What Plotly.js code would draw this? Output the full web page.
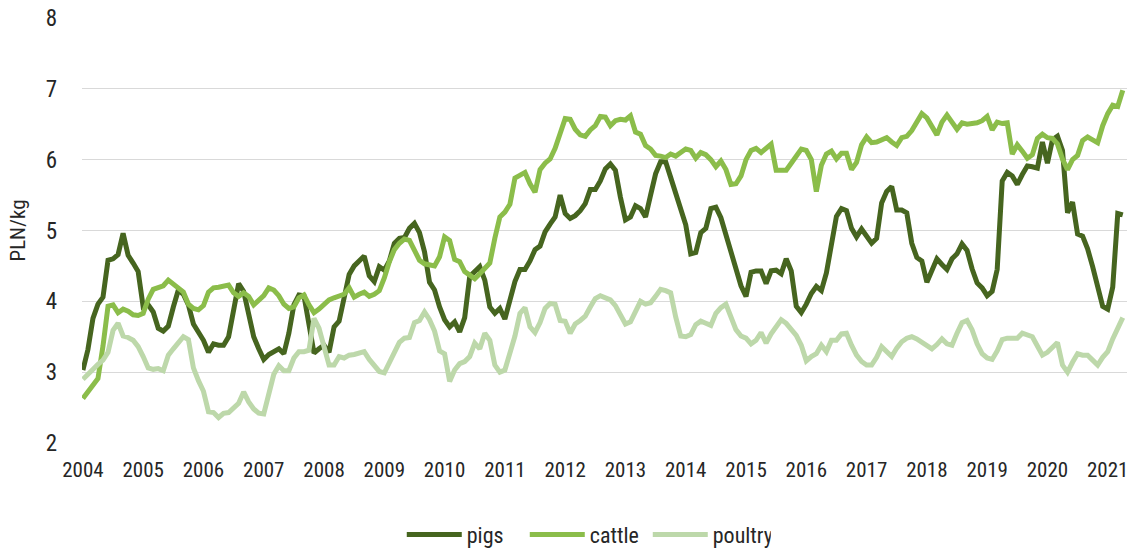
<!DOCTYPE html>
<html>
<head>
<meta charset="utf-8">
<script src="https://cdn.plot.ly/plotly-3.0.1.min.js"></script>
<style>
html,body{margin:0;padding:0;background:#fff;}
#chart{width:1129px;height:548px;}
</style>
</head>
<body>
<div id="chart"></div>
<script>
// Monthly series, January 2004 onwards (PLN/kg)
const startYear = 2004;
const seriesNames = ["pigs", "cattle", "poultry"];
const yearTicks = [2004,2005,2006,2007,2008,2009,2010,2011,2012,2013,2014,2015,2016,2017,2018,2019,2020,2021];
const yTicks = [2,3,4,5,6,7,8];

const pigs = [3.03,3.32,3.76,3.96,4.06,4.58,4.60,4.66,4.96,4.65,
4.54,4.42,3.92,3.95,3.85,3.62,3.58,3.65,3.92,4.16,
4.10,3.95,3.68,3.58,3.45,3.28,3.40,3.38,3.38,3.50,
3.85,4.25,4.14,3.85,3.50,3.33,3.18,3.25,3.29,3.33,
3.26,3.55,3.95,4.09,4.08,3.70,3.27,3.33,3.38,3.28,
3.64,3.72,4.05,4.38,4.50,4.56,4.64,4.36,4.28,4.49,
4.44,4.57,4.82,4.89,4.90,5.03,5.10,4.97,4.70,4.27,
4.16,3.92,3.74,3.64,3.71,3.57,3.77,4.35,4.42,4.49,
4.30,3.92,3.83,3.90,3.75,4.00,4.28,4.45,4.45,4.57,
4.73,4.78,4.98,5.09,5.19,5.50,5.24,5.17,5.21,5.28,
5.38,5.58,5.58,5.70,5.87,5.94,5.85,5.47,5.15,5.19,
5.35,5.31,5.19,5.50,5.80,5.97,5.97,5.75,5.51,5.31,
5.08,4.67,4.69,4.97,5.03,5.31,5.33,5.18,4.93,4.66,
4.45,4.22,4.07,4.41,4.43,4.43,4.25,4.43,4.44,4.39,
4.60,4.43,3.93,3.84,3.96,4.11,4.21,4.15,4.40,4.83,
5.20,5.31,5.28,5.03,4.91,5.02,4.91,4.82,4.89,5.39,
5.55,5.62,5.29,5.29,5.25,4.82,4.62,4.57,4.27,4.45,
4.60,4.52,4.45,4.60,4.67,4.81,4.72,4.46,4.26,4.19,
4.08,4.14,4.45,5.70,5.82,5.77,5.65,5.79,5.91,5.90,
5.88,6.25,5.95,6.28,6.33,6.13,5.25,5.40,4.95,4.92,
4.74,4.49,4.22,3.93,3.89,4.20,5.24,5.22];

const cattle = [2.63,2.73,2.83,2.91,3.37,3.93,3.95,3.84,3.89,3.86,
3.81,3.80,3.83,4.03,4.17,4.20,4.22,4.30,4.24,4.20,
4.13,3.96,3.90,3.88,3.94,4.13,4.19,4.20,4.21,4.23,
4.12,4.07,4.12,4.07,3.95,4.01,4.08,4.19,4.16,4.08,
3.96,3.90,3.92,4.05,4.09,3.95,3.84,3.89,3.96,4.02,
4.05,4.07,4.10,4.19,4.06,4.10,4.13,4.07,4.10,4.15,
4.33,4.56,4.73,4.82,4.88,4.86,4.70,4.58,4.53,4.52,
4.50,4.63,4.91,4.86,4.59,4.56,4.42,4.37,4.32,4.39,
4.47,4.54,4.89,5.19,5.26,5.37,5.74,5.78,5.82,5.66,
5.54,5.86,5.95,6.01,6.16,6.37,6.58,6.57,6.43,6.35,
6.33,6.42,6.48,6.61,6.60,6.48,6.55,6.57,6.56,6.62,
6.39,6.36,6.20,6.15,6.06,6.05,6.03,6.08,6.05,6.10,
6.15,6.13,6.02,6.10,6.07,6.00,5.90,5.98,5.86,5.65,
5.66,5.77,6.00,6.13,6.16,6.10,6.16,6.22,5.85,5.85,
5.85,5.95,6.05,6.15,6.13,6.00,5.55,5.92,6.08,6.12,
6.01,6.09,6.09,5.86,5.96,6.21,6.32,6.24,6.25,6.28,
6.31,6.25,6.20,6.31,6.33,6.41,6.52,6.65,6.59,6.47,
6.35,6.53,6.63,6.53,6.43,6.52,6.50,6.51,6.52,6.55,
6.61,6.42,6.53,6.51,6.52,6.08,6.21,6.12,6.02,6.07,
6.30,6.36,6.31,6.30,6.22,6.01,5.86,6.00,6.06,6.27,
6.32,6.28,6.24,6.48,6.65,6.77,6.75,6.98];

const poultry = [2.90,2.97,3.06,3.11,3.17,3.28,3.59,3.69,3.51,3.49,
3.45,3.36,3.22,3.06,3.04,3.05,3.02,3.24,3.33,3.43,
3.50,3.46,3.06,2.88,2.73,2.44,2.43,2.36,2.42,2.43,
2.50,2.56,2.72,2.58,2.48,2.42,2.41,2.68,2.97,3.09,
3.02,3.02,3.20,3.29,3.29,3.31,3.76,3.62,3.38,3.10,
3.10,3.22,3.20,3.24,3.25,3.27,3.29,3.18,3.09,3.01,
2.99,3.14,3.29,3.42,3.48,3.49,3.70,3.73,3.85,3.74,
3.58,3.30,3.26,2.87,3.03,3.12,3.15,3.22,3.41,3.33,
3.55,3.45,3.10,3.00,3.03,3.26,3.51,3.83,3.91,3.64,
3.56,3.70,3.90,3.97,3.96,3.73,3.72,3.55,3.68,3.73,
3.79,3.92,4.04,4.08,4.05,4.02,3.94,3.80,3.68,3.71,
3.87,4.00,3.96,3.98,4.07,4.17,4.15,4.12,3.78,3.51,
3.50,3.53,3.67,3.72,3.69,3.66,3.83,3.91,3.96,3.78,
3.60,3.51,3.48,3.40,3.45,3.56,3.41,3.54,3.64,3.74,
3.69,3.60,3.52,3.38,3.16,3.22,3.26,3.38,3.29,3.45,
3.45,3.54,3.55,3.38,3.24,3.15,3.10,3.10,3.21,3.36,
3.29,3.22,3.34,3.43,3.48,3.50,3.47,3.43,3.38,3.33,
3.39,3.47,3.40,3.38,3.55,3.70,3.73,3.60,3.40,3.26,
3.20,3.18,3.30,3.46,3.48,3.48,3.48,3.55,3.53,3.50,
3.37,3.24,3.28,3.35,3.42,3.10,3.00,3.14,3.26,3.24,
3.24,3.17,3.10,3.21,3.29,3.47,3.63,3.77];

// time position of each monthly observation (year + month/12)
const months = pigs.map((_, i) => startYear + i / 12);

const FONT = 'Roboto Condensed, "Liberation Sans Narrow", "DejaVu Sans Condensed", Roboto, sans-serif';
const colors = ["#46651f", "#8bbd4a", "#bdd8aa"];
const values = [pigs, cattle, poultry];

const traces = seriesNames.map((name, k) => ({
  type: "scatter",
  mode: "lines",
  name: name,
  x: months,
  y: values[k],
  line: {color: colors[k], width: 5, shape: "linear"},
  hoverinfo: "x+y+name"
}));

const layout = {
  width: 1129,
  height: 548,
  margin: {l: 82, r: 2, t: 18, b: 105, autoexpand: false},
  paper_bgcolor: "#ffffff",
  plot_bgcolor: "#ffffff",
  font: {family: FONT, size: 22, color: "#262626"},
  showlegend: true,
  legend: {
    orientation: "h",
    x: 0.306, xanchor: "left",
    y: -0.216, yanchor: "middle",
    font: {family: FONT, size: 22, color: "#262626"},
    traceorder: "normal",
    itemwidth: 55,
    entrywidth: 53,
    entrywidthmode: "pixels"
  },
  xaxis: {
    range: [2003.985, 2021.32],
    tickmode: "array",
    tickvals: yearTicks,
    ticktext: yearTicks.map(String),
    showgrid: false,
    zeroline: false,
    showline: false,
    ticks: "",
    ticklabelstandoff: 12,
    tickfont: {family: FONT, size: 21, color: "#262626"},
    fixedrange: true
  },
  yaxis: {
    range: [2, 8],
    tickmode: "array",
    tickvals: yTicks,
    ticktext: yTicks.map(String),
    showgrid: true,
    gridcolor: "#d9d9d9",
    gridwidth: 1.3,
    zeroline: false,
    showline: false,
    ticks: "",
    ticklabelstandoff: 24,
    tickfont: {family: FONT, size: 23, color: "#262626"},
    title: {text: "PLN/kg", font: {family: FONT, size: 21, color: "#262626"}, standoff: 14},
    fixedrange: true
  }
};

Plotly.newPlot("chart", traces, layout, {displayModeBar: false, staticPlot: true});
</script>
</body>
</html>
